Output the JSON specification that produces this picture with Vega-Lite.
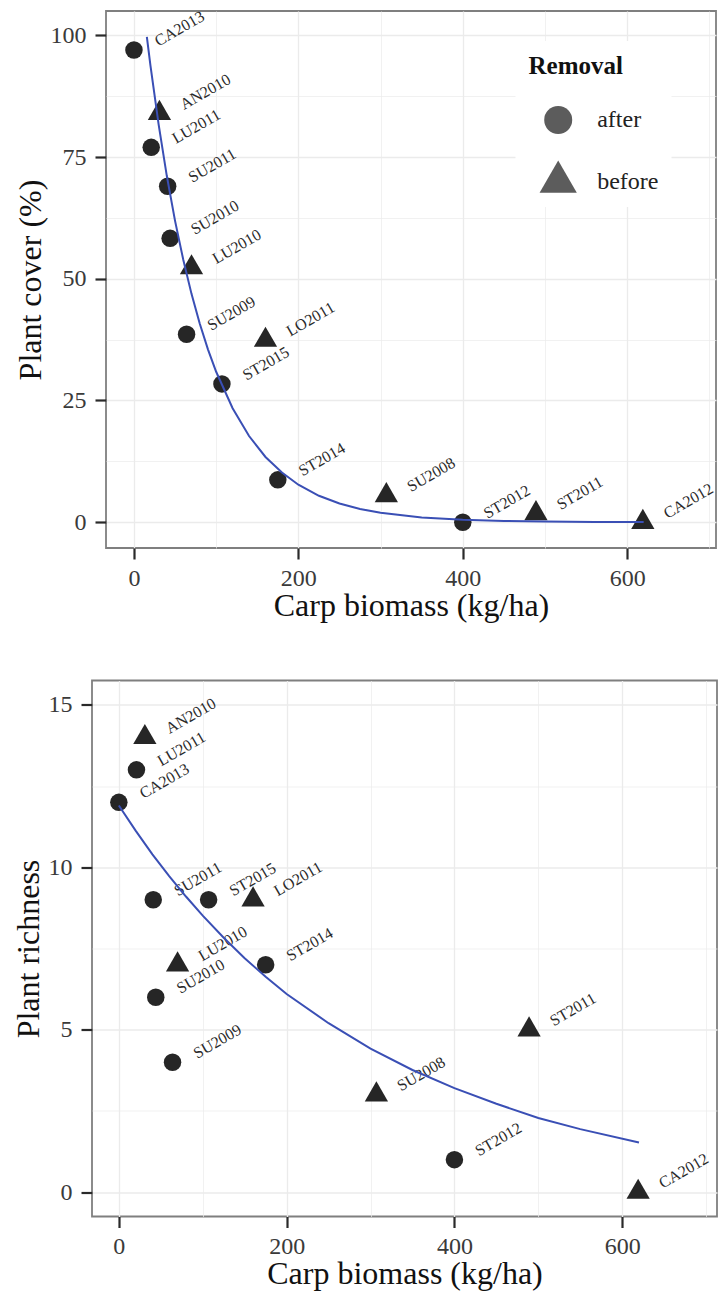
{
  "$schema": "https://vega.github.io/schema/vega-lite/v6.json",
  "background": "white",
  "padding": {"left": 11, "top": 7, "right": 0, "bottom": 0},
  "spacing": 57.5,
  "config": {
    "font": "Liberation Serif",
    "view": {"stroke": "#7f7f7f", "strokeWidth": 1.8},
    "axis": {
      "domain": false,
      "labelFont": "Liberation Serif",
      "labelFontSize": 24,
      "labelColor": "#3a3a3a",
      "titleFont": "Liberation Serif",
      "titleFontSize": 32,
      "titleFontWeight": "normal",
      "titleColor": "#111111",
      "tickColor": "#2a2a2a",
      "tickWidth": 2.2,
      "tickSize": 11,
      "gridColor": "#ebebeb",
      "labelFlush": false,
      "labelOverlap": false,
      "labelBound": false
    },
    "axisX": {"labelPadding": 7, "titlePadding": 0},
    "axisY": {"labelPadding": 9, "titlePadding": 3},
    "legend": {"titleFont": "Liberation Serif", "labelFont": "Liberation Serif"}
  },
  "datasets": {
    "pts": [
      {"site": "CA2013", "removal": "after", "biomass": 0, "cover": 97, "richness": 12},
      {"site": "AN2010", "removal": "before", "biomass": 31, "cover": 84, "richness": 14},
      {"site": "LU2011", "removal": "after", "biomass": 21, "cover": 77, "richness": 13},
      {"site": "SU2011", "removal": "after", "biomass": 41, "cover": 69, "richness": 9},
      {"site": "SU2010", "removal": "after", "biomass": 44, "cover": 58.3, "richness": 6},
      {"site": "LU2010", "removal": "before", "biomass": 70, "cover": 52.3, "richness": 7},
      {"site": "SU2009", "removal": "after", "biomass": 64, "cover": 38.6, "richness": 4},
      {"site": "LO2011", "removal": "before", "biomass": 160, "cover": 37.4, "richness": 9},
      {"site": "ST2015", "removal": "after", "biomass": 107, "cover": 28.4, "richness": 9},
      {"site": "ST2014", "removal": "after", "biomass": 175, "cover": 8.7, "richness": 7},
      {"site": "SU2008", "removal": "before", "biomass": 307, "cover": 5.5, "richness": 3},
      {"site": "ST2012", "removal": "after", "biomass": 400, "cover": 0, "richness": 1},
      {"site": "ST2011", "removal": "before", "biomass": 489, "cover": 1.8, "richness": 5},
      {"site": "CA2012", "removal": "before", "biomass": 619, "cover": 0, "richness": 0}
    ],
    "line1": [
      {"biomass": 15.7, "cover": 99.7},
      {"biomass": 20, "cover": 93.9},
      {"biomass": 30, "cover": 81.7},
      {"biomass": 40, "cover": 71.1},
      {"biomass": 50, "cover": 61.9},
      {"biomass": 60, "cover": 53.9},
      {"biomass": 70, "cover": 46.9},
      {"biomass": 80, "cover": 40.8},
      {"biomass": 90, "cover": 35.5},
      {"biomass": 100, "cover": 30.9},
      {"biomass": 120, "cover": 23.4},
      {"biomass": 140, "cover": 17.7},
      {"biomass": 160, "cover": 13.4},
      {"biomass": 180, "cover": 10.2},
      {"biomass": 200, "cover": 7.7},
      {"biomass": 225, "cover": 5.43},
      {"biomass": 250, "cover": 3.84},
      {"biomass": 275, "cover": 2.72},
      {"biomass": 300, "cover": 1.92},
      {"biomass": 350, "cover": 0.96},
      {"biomass": 400, "cover": 0.48},
      {"biomass": 450, "cover": 0.24},
      {"biomass": 500, "cover": 0.12},
      {"biomass": 560, "cover": 0.05},
      {"biomass": 620, "cover": 0.02}
    ],
    "line2": [
      {"biomass": 0, "richness": 11.9},
      {"biomass": 20, "richness": 11.13},
      {"biomass": 40, "richness": 10.4},
      {"biomass": 60, "richness": 9.73},
      {"biomass": 80, "richness": 9.1},
      {"biomass": 100, "richness": 8.51},
      {"biomass": 125, "richness": 7.83},
      {"biomass": 150, "richness": 7.2},
      {"biomass": 175, "richness": 6.63},
      {"biomass": 200, "richness": 6.1},
      {"biomass": 250, "richness": 5.2},
      {"biomass": 300, "richness": 4.42},
      {"biomass": 350, "richness": 3.76},
      {"biomass": 400, "richness": 3.2},
      {"biomass": 450, "richness": 2.72},
      {"biomass": 500, "richness": 2.28},
      {"biomass": 550, "richness": 1.94},
      {"biomass": 620, "richness": 1.53}
    ],
    "spacer": [{"a": 1}]
  },
  "resolve": {"scale": {"shape": "independent"}, "legend": {"shape": "independent"}},
  "vconcat": [
    {
      "spacing": -83,
      "resolve": {"scale": {"shape": "independent"}, "legend": {"shape": "independent"}},
      "hconcat": [
        {
          "width": 1,
          "height": 1,
          "view": {"stroke": null},
          "data": {"name": "spacer"},
          "mark": {"type": "point", "opacity": 0},
          "encoding": {}
        },
        {
          "width": 610,
          "height": 537,
          "encoding": {
            "x": {
              "field": "biomass", "type": "quantitative",
              "scale": {"domain": [-34, 708], "nice": false, "zero": false},
              "title": "Carp biomass (kg/ha)",
              "axis": {
                "titleFont": "Liberation Serif",
                "labelFont": "Liberation Serif",
                "values": [0, 100, 200, 300, 400, 500, 600, 700],
                "labelExpr": "datum.value % 200 === 0 ? datum.label : ''",
                "tickOpacity": {"condition": {"test": "datum.value % 200 === 0", "value": 1}, "value": 0},
                "gridWidth": {"condition": {"test": "datum.value % 200 === 0", "value": 1.3}, "value": 0.7}
              }
            },
            "y": {
              "field": "cover", "type": "quantitative",
              "scale": {"domain": [-5.3, 105], "nice": false, "zero": false},
              "title": "Plant cover (%)",
              "axis": {
                "titleFont": "Liberation Serif",
                "labelFont": "Liberation Serif",
                "values": [0, 12.5, 25, 37.5, 50, 62.5, 75, 87.5, 100],
                "labelExpr": "datum.value % 25 === 0 ? datum.label : ''",
                "tickOpacity": {"condition": {"test": "datum.value % 25 === 0", "value": 1}, "value": 0},
                "gridWidth": {"condition": {"test": "datum.value % 25 === 0", "value": 1.3}, "value": 0.7},
                "minExtent": 56,
                "maxExtent": 56
              }
            }
          },
          "layer": [
            {
              "data": {"name": "pts"},
              "transform": [{"filter": "false"}],
              "mark": {"type": "point", "filled": true, "opacity": 1, "color": "#5c5c5c", "strokeWidth": 0, "size": 306},
              "encoding": {
                "shape": {
                  "field": "removal", "type": "nominal",
                  "scale": {"domain": ["after", "before"], "range": ["circle", "M0,-1.535L1.33,0.768L-1.33,0.768Z"]},
                  "legend": {
                    "orient": "none",
                    "legendX": 409.5,
                    "legendY": 30,
                    "title": "Removal",
                    "titleFont": "Liberation Serif",
                    "titleFontSize": 25,
                    "titleFontWeight": "bold",
                    "titleColor": "#111111",
                    "titlePadding": 27,
                    "padding": 13,
                    "fillColor": "white",
                    "labelFont": "Liberation Serif",
                    "labelFontSize": 24,
                    "labelColor": "#222222",
                    "symbolSize": 784,
                    "symbolOffset": 15.7,
                    "labelOffset": 25,
                    "rowPadding": 26,
                    "symbolStrokeWidth": 0
                  }
                }
              }
            },
            {
              "data": {"name": "pts"},
              "mark": {"type": "point", "filled": true, "opacity": 1, "color": "#262626", "strokeWidth": 0, "size": 306},
              "encoding": {
                "shape": {
                  "field": "removal", "type": "nominal",
                  "scale": {"domain": ["after", "before"], "range": ["circle", "M0,-1.535L1.33,0.768L-1.33,0.768Z"]},
                  "legend": null
                }
              }
            },
            {
              "data": {"name": "pts"},
              "mark": {"type": "text", "align": "left", "baseline": "alphabetic", "angle": -30, "dx": 23, "dy": 9.5, "fontSize": 16, "color": "#2a2a2a", "font": "Liberation Serif"},
              "encoding": {"text": {"field": "site"}}
            },
            {
              "data": {"name": "line1"},
              "mark": {"type": "line", "color": "#3a4fb5", "strokeWidth": 2},
              "encoding": {}
            }
          ]
        }
      ]
    },
    {
      "resolve": {"scale": {"shape": "independent"}, "legend": {"shape": "independent"}},
      "hconcat": [
        {
          "width": 625,
          "height": 536,
          "encoding": {
            "x": {
              "field": "biomass", "type": "quantitative",
              "scale": {"domain": [-32, 713], "nice": false, "zero": false},
              "title": "Carp biomass (kg/ha)",
              "axis": {
                "titleFont": "Liberation Serif",
                "labelFont": "Liberation Serif",
                "values": [0, 100, 200, 300, 400, 500, 600, 700],
                "labelExpr": "datum.value % 200 === 0 ? datum.label : ''",
                "tickOpacity": {"condition": {"test": "datum.value % 200 === 0", "value": 1}, "value": 0},
                "gridWidth": {"condition": {"test": "datum.value % 200 === 0", "value": 1.3}, "value": 0.7}
              }
            },
            "y": {
              "field": "richness", "type": "quantitative",
              "scale": {"domain": [-0.75, 15.75], "nice": false, "zero": false},
              "title": "Plant richness",
              "axis": {
                "titleFont": "Liberation Serif",
                "labelFont": "Liberation Serif",
                "values": [0, 2.5, 5, 7.5, 10, 12.5, 15],
                "labelExpr": "datum.value % 5 === 0 ? datum.label : ''",
                "tickOpacity": {"condition": {"test": "datum.value % 5 === 0", "value": 1}, "value": 0},
                "gridWidth": {"condition": {"test": "datum.value % 5 === 0", "value": 1.3}, "value": 0.7},
                "minExtent": 44,
                "maxExtent": 44
              }
            }
          },
          "layer": [
            {
              "data": {"name": "pts"},
              "mark": {"type": "point", "filled": true, "opacity": 1, "color": "#262626", "strokeWidth": 0, "size": 306},
              "encoding": {
                "shape": {
                  "field": "removal", "type": "nominal",
                  "scale": {"domain": ["after", "before"], "range": ["circle", "M0,-1.535L1.33,0.768L-1.33,0.768Z"]},
                  "legend": null
                }
              }
            },
            {
              "data": {"name": "pts"},
              "mark": {"type": "text", "align": "left", "baseline": "alphabetic", "angle": -30, "dx": 23, "dy": 9.5, "fontSize": 16, "color": "#2a2a2a", "font": "Liberation Serif"},
              "encoding": {"text": {"field": "site"}}
            },
            {
              "data": {"name": "line2"},
              "mark": {"type": "line", "color": "#3a4fb5", "strokeWidth": 2},
              "encoding": {}
            }
          ]
        }
      ]
    }
  ]
}
